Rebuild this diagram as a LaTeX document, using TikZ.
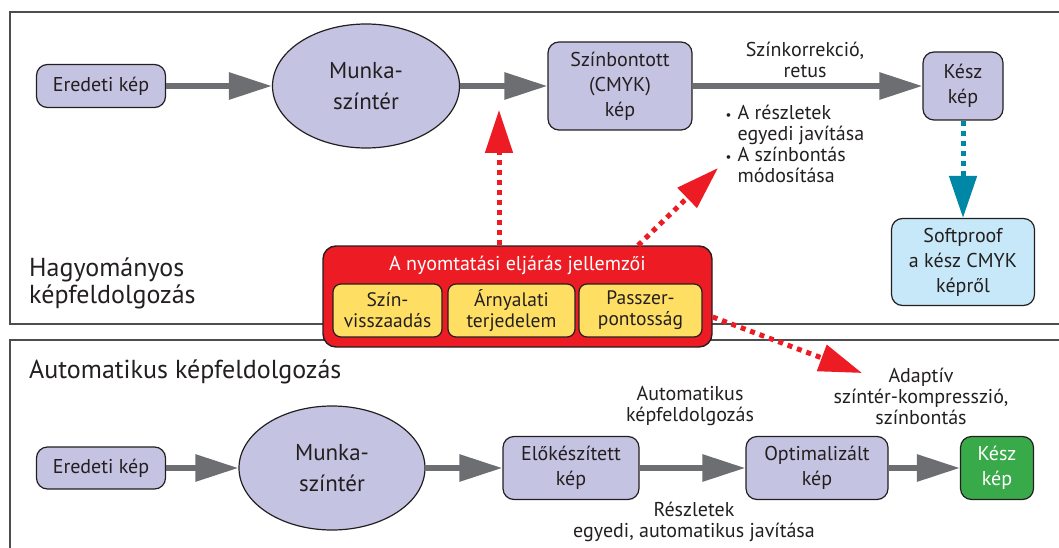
\documentclass[tikz,border=0pt]{standalone}
\usepackage{fontspec}
\setmainfont{PT Sans}
\usetikzlibrary{arrows.meta,shapes.geometric}

\definecolor{ink}{RGB}{35,31,32}
\definecolor{lav}{RGB}{197,195,226}
\definecolor{arrgray}{RGB}{109,110,113}
\definecolor{framegray}{RGB}{77,77,79}
\definecolor{procred}{RGB}{237,28,36}
\definecolor{procyellow}{RGB}{255,223,99}
\definecolor{proofblue}{RGB}{199,232,249}
\definecolor{arrblue}{RGB}{0,135,166}
\definecolor{doneGreen}{RGB}{57,170,73}

\newcommand{\bul}{\makebox[12pt][l]{\fontsize{13}{13}\selectfont •}}

\begin{document}
\begin{tikzpicture}[x=1pt, y=-1pt,
    box/.style={draw=ink, line width=1.2pt, rounded corners=11pt, fill=lav,
                align=center, inner sep=0pt, text=ink,
                font=\fontsize{20}{25}\selectfont},
    oval/.style={ellipse, draw=ink, line width=1.2pt, fill=lav, align=center,
                 inner sep=0pt, text=ink, font=\fontsize{23}{31}\selectfont},
    ybox/.style={draw=ink, line width=1.2pt, rounded corners=8pt,
                 fill=procyellow, align=center, inner sep=0pt, text=ink,
                 minimum height=53pt, font=\fontsize{19.5}{21}\selectfont},
    lbl/.style={align=center, text=ink, font=\fontsize{20}{21}\selectfont},
    head/.style={align=left, anchor=west, text=ink, inner sep=0pt,
                 font=\fontsize{26}{27}\selectfont},
    frame/.style={draw=framegray, line width=1.3pt},
    garr/.style={-{Triangle[length=43pt,width=26pt]}, line width=6pt,
                 draw=arrgray},
    rarr/.style={-{Triangle[length=43pt,width=27pt]}, line width=5pt,
                 draw=procred, dash pattern=on 5pt off 5pt},
    barr/.style={-{Triangle[length=42pt,width=27pt]}, line width=5pt,
                 draw=arrblue, dash pattern=on 5pt off 5pt}
  ]
    \useasboundingbox (0,0) rectangle (1059,548);

    % frames
    \draw[frame] (1059,12) -- (10,12) -- (10,324) -- (1059,324);
    \draw[frame] (1059,340) -- (10,340) -- (10,548);

    % traditional
    \node[head] (hagy) at (29,283) {Hagyományos\\képfeldolgozás};
    \node[box, minimum width=129pt, minimum height=43pt] (ered1) at (101,86)
        {Eredeti kép};
    \node[oval, minimum width=187pt, minimum height=124pt] (munka1) at (366,86)
        {Munka-\\színtér};
    \node[box, minimum width=144pt, minimum height=88pt] (szinb) at (620,86)
        {Színbontott\\(CMYK)\\kép};
    \node[box, minimum width=80pt, minimum height=68pt] (kesz1) at (963,86)
        {Kész\\kép};
    \node[box, fill=proofblue, minimum width=143pt, minimum height=87pt] (soft)
        at (963,262) {Softproof\\a kész CMYK\\képről};
    \node[lbl] (korr) at (805,60) {Színkorrekció,\\retus};
    \node[lbl, align=left, anchor=north west] (bullets) at (722,102)
        {\bul A részletek\\\hspace*{12pt}egyedi javítása\\
         \bul A színbontás\\\hspace*{12pt}módosítása};

    \draw[garr] (ered1) -- (munka1);
    \draw[garr] (munka1) -- (szinb);
    \draw[garr] (szinb) -- (kesz1);
    \draw[barr] (kesz1) -- (soft);

    % printing process
    \node[draw=ink, line width=1.4pt, fill=procred, rounded corners=13pt,
          minimum width=389pt, minimum height=101pt] (proc) at (517.5,296.5) {};
    \node[text=white, font=\fontsize{20}{21}\selectfont] (ptitle) at (517.5,265)
        {A nyomtatási eljárás jellemzői};
    \node[ybox, minimum width=109pt] (yszin) at (387.5,310.5)
        {Szín-\\visszaadás};
    \node[ybox, minimum width=127pt] (yarny) at (511.5,310.5)
        {Árnyalati\\terjedelem};
    \node[ybox, minimum width=123pt] (ypassz) at (640.5,310.5)
        {Passzer-\\pontosság};

    \coordinate (tip1) at (499,110);
    \coordinate (tip2) at (718,168);
    \coordinate (tip3) at (862,373);
    \draw[rarr] (proc.north -| tip1) -- (tip1);
    \draw[rarr] (proc.23) -- (tip2);
    \draw[rarr] (proc.-6) -- (tip3);

    % automatic
    \node[head] (auto) at (29,372) {Automatikus képfeldolgozás};
    \node[box, minimum width=129pt, minimum height=42pt] (ered2) at (101,468)
        {Eredeti kép};
    \node[oval, minimum width=186pt, minimum height=124pt] (munka2) at (332,468)
        {Munka-\\színtér};
    \node[box, minimum width=136pt, minimum height=63pt] (elok) at (571,468)
        {Előkészített\\kép};
    \node[box, minimum width=142pt, minimum height=63pt] (optim) at (817,468)
        {Optimalizált\\kép};
    \node[box, fill=doneGreen, text=white, minimum width=73pt,
          minimum height=63pt] (kesz2) at (997,468) {Kész\\kép};
    \node[lbl] (autol) at (690,406.5) {Automatikus\\képfeldolgozás};
    \node[lbl] (reszl) at (694,521.5) {Részletek\\egyedi, automatikus javítása};
    \node[lbl] (adapt) at (921,396) {Adaptív\\színtér-kompresszió,\\színbontás};

    \draw[garr] (ered2) -- (munka2);
    \draw[garr] (munka2) -- (elok);
    \draw[garr] (elok) -- (optim);
    \draw[garr] (optim) -- (kesz2);
  \end{tikzpicture}
\end{document}
